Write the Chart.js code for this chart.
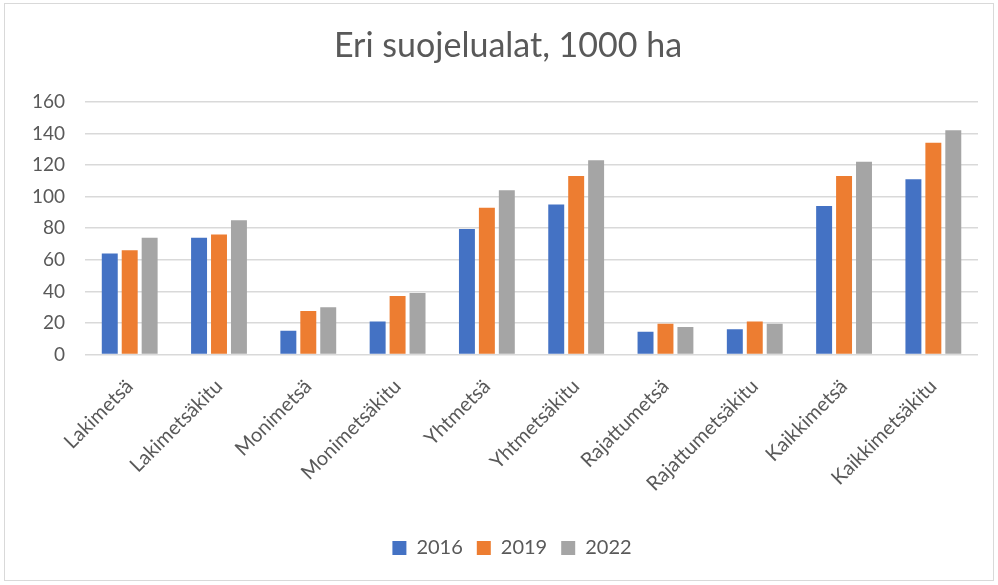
<!DOCTYPE html>
<html>
<head>
<meta charset="utf-8">
<script src="https://cdn.jsdelivr.net/npm/chart.js@4"></script>
<style>
  html, body { margin: 0; padding: 0; background: #fff; }
  #wrap { position: absolute; left: 4px; top: 3px; width: 990px; height: 578px; border: 1px solid #d9d9d9; box-sizing: border-box; }
</style>
</head>
<body>
<div id="wrap"><canvas id="chart"></canvas></div>
<script>
// -------- DATA --------
const categories = ["Lakimetsä", "Lakimetsäkitu", "Monimetsä", "Monimetsäkitu", "Yhtmetsä",
  "Yhtmetsäkitu", "Rajattumetsä", "Rajattumetsäkitu", "Kaikkimetsä", "Kaikkimetsäkitu"];
const years = ["2016", "2019", "2022"];
const values2016 = [64, 74, 15, 21, 79.5, 95, 14.5, 16, 94, 111];
const values2019 = [66, 76, 27.5, 37, 93, 113, 19.5, 21, 113, 134];
const values2022 = [74, 85, 30, 39, 104, 123, 17.5, 19.5, 122, 142];
const yTicks = [0, 20, 40, 60, 80, 100, 120, 140, 160];

const colors = ["#4472c4", "#ed7d31", "#a5a5a5"];
const textColor = "#595959";
const font = "Lato, 'Open Sans', sans-serif";

const series = [values2016, values2019, values2022];

// Siirretään otsikkoa ja selitettä hieman oikealle kuten Excelissä
const shiftBoxes = {
  id: "shiftBoxes",
  afterLayout(chart) {
    if (chart.titleBlock) { chart.titleBlock.left += 13; chart.titleBlock.right += 13; }
    if (chart.legend) { chart.legend.left += 17; chart.legend.right += 17; }
  }
};

// -------- CHART --------
const ctx = document.getElementById("chart");
new Chart(ctx, {
  type: "bar",
  data: {
    labels: categories,
    datasets: series.map((data, i) => ({
      label: years[i],
      data,
      backgroundColor: colors[i],
      borderWidth: 0,
      categoryPercentage: 0.67,
      barPercentage: 0.8
    }))
  },
  options: {
    responsive: true,
    maintainAspectRatio: false,
    animation: false,
    layout: { padding: { top: 10, right: 15, left: 7, bottom: 12 } },
    plugins: {
      title: {
        display: true,
        text: "Eri suojelualat, 1000 ha",
        color: textColor,
        font: { family: font, size: 34, weight: "normal" },
        padding: { top: 12, bottom: 35 }
      },
      legend: {
        position: "bottom",
        labels: {
          color: textColor,
          font: { family: font, size: 20 },
          boxWidth: 14,
          boxHeight: 14,
          padding: 14
        }
      },
      tooltip: { enabled: false }
    },
    scales: {
      x: {
        grid: { display: false },
        border: { display: false },
        ticks: { color: textColor, font: { family: font, size: 20 }, maxRotation: 45, minRotation: 45, padding: 12 },
        afterFit: axis => { axis.height += 16; }
      },
      y: {
        min: 0,
        max: 160,
        afterBuildTicks: axis => { axis.ticks = yTicks.map(v => ({ value: v })); },
        grid: { color: "#d9d9d9", lineWidth: 1.5, drawTicks: false },
        border: { display: false },
        ticks: { color: textColor, font: { family: font, size: 19 }, padding: 20 }
      }
    }
  },
  plugins: [shiftBoxes]
});
</script>
</body>
</html>
